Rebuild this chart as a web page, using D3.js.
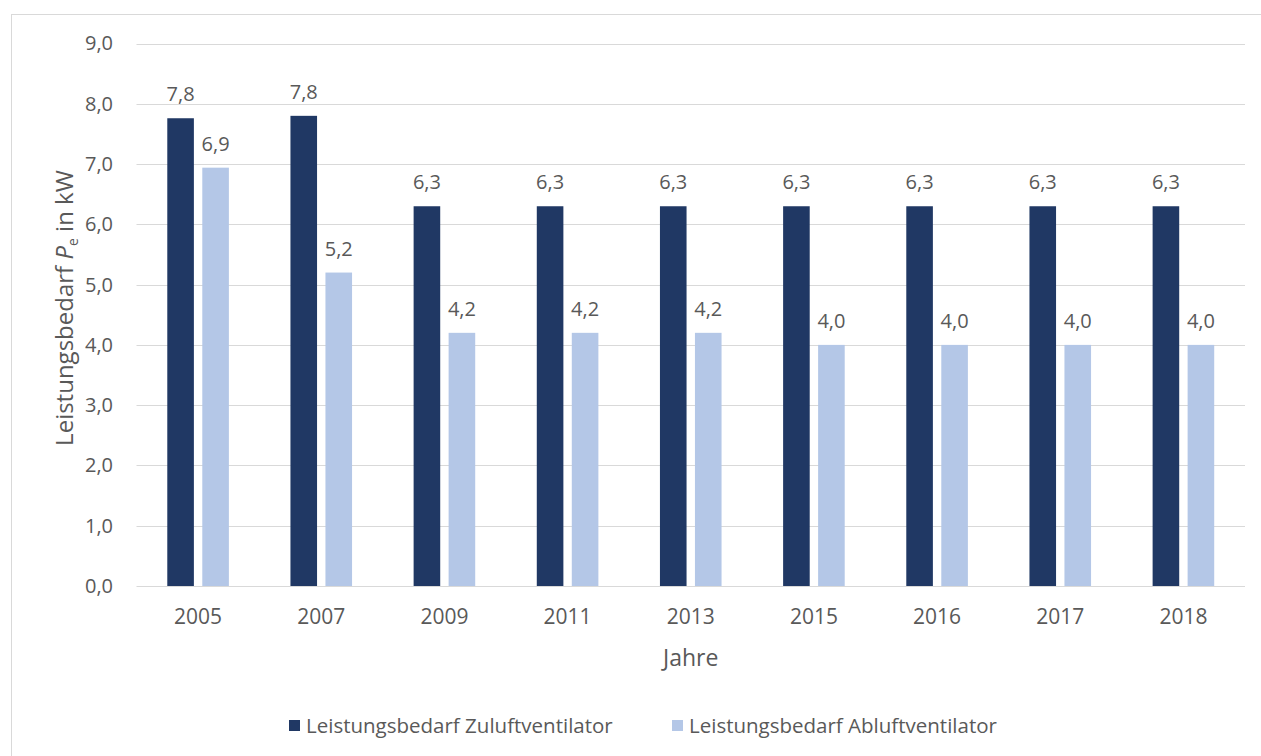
<!DOCTYPE html>
<html>
<head>
<meta charset="utf-8">
<script src="https://cdn.jsdelivr.net/npm/d3@7/dist/d3.min.js"></script>
<style>
  html, body { margin: 0; padding: 0; background: #fff; }
  svg { display: block; font-family: "Open Sans", "DejaVu Sans", sans-serif; }
</style>
</head>
<body>
<svg id="chart" width="1261" height="756"></svg>
<script>
// Jahre und Leistungsbedarf der Ventilatoren (kW)
const years = ["2005", "2007", "2009", "2011", "2013", "2015", "2016", "2017", "2018"];
const zuluft = [7.76, 7.8, 6.3, 6.3, 6.3, 6.3, 6.3, 6.3, 6.3];
const abluft = [6.94, 5.2, 4.2, 4.2, 4.2, 4.0, 4.0, 4.0, 4.0];
const seriesNames = ["Leistungsbedarf Zuluftventilator", "Leistungsbedarf Abluftventilator"];
const seriesColors = ["#203864", "#b4c7e7"];
const yTicks = [0, 1, 2, 3, 4, 5, 6, 7, 8, 9];

const svg = d3.select("#chart");
const textColor = "#595959";
const gridColor = "#d9d9d9";
const fmt = v => d3.format(".1f")(v).replace(".", ",");

// Äußerer Rahmen des Diagrammbereichs
svg.append("rect")
  .attr("x", 11.5).attr("y", 14.5)
  .attr("width", 1300).attr("height", 800)
  .attr("fill", "#fff").attr("stroke", gridColor);

const plot = { left: 136.5, right: 1245, top: 43.5, bottom: 586 };

const x0 = d3.scaleBand().domain(years).range([plot.left, plot.right]).paddingInner(0).paddingOuter(0);
const groupWidth = 61.6;
const x1 = d3.scaleBand().domain([0, 1]).range([0, groupWidth]).paddingInner(0.24).paddingOuter(0);
const y = d3.scaleLinear().domain([0, 9]).range([plot.bottom, plot.top]);

// Gitternetzlinien
svg.append("g")
  .selectAll("line")
  .data(yTicks)
  .join("line")
  .attr("x1", plot.left).attr("x2", plot.right)
  .attr("y1", d => Math.round(y(d)) + 0.5).attr("y2", d => Math.round(y(d)) + 0.5)
  .attr("stroke", gridColor).attr("stroke-width", 1);

// Y-Achse
const yAxis = d3.axisLeft(y).tickValues(yTicks).tickFormat(fmt).tickSize(0).tickPadding(0);
const gy = svg.append("g").attr("transform", `translate(113,0)`).call(yAxis);
gy.select(".domain").remove();
gy.selectAll("text").attr("fill", textColor).style("font-size", "20px")
  .style("font-family", "'Open Sans', sans-serif");

// X-Achse
const xAxis = d3.axisBottom(x0).tickSize(0).tickPadding(0);
const gx = svg.append("g").attr("transform", `translate(0,${plot.bottom + 23})`).call(xAxis);
gx.select(".domain").remove();
gx.selectAll("text").attr("fill", textColor).style("font-size", "21px")
  .style("font-family", "'Open Sans', sans-serif");

// Balken
const rows = years.map((yr, i) => ({ year: yr, values: [zuluft[i], abluft[i]] }));
const groupOffset = (x0.bandwidth() - groupWidth) / 2;

const groups = svg.append("g")
  .selectAll("g")
  .data(rows)
  .join("g")
  .attr("transform", d => `translate(${x0(d.year) + groupOffset},0)`);

groups.selectAll("rect")
  .data(d => d.values.map((v, k) => ({ v, k })))
  .join("rect")
  .attr("x", d => x1(d.k))
  .attr("width", x1.bandwidth())
  .attr("y", d => y(d.v))
  .attr("height", d => y(0) - y(d.v))
  .attr("fill", d => seriesColors[d.k]);

// Datenbeschriftungen
groups.selectAll("text")
  .data(d => d.values.map((v, k) => ({ v, k })))
  .join("text")
  .attr("x", d => x1(d.k) + x1.bandwidth() / 2)
  .attr("y", d => y(d.v) - 17)
  .attr("text-anchor", "middle")
  .attr("fill", textColor)
  .style("font-size", "20px")
  .text(d => fmt(d.v));

// Achsentitel
const yTitle = svg.append("text")
  .attr("transform", "translate(73,308) rotate(-90)")
  .attr("text-anchor", "middle")
  .attr("fill", textColor)
  .style("font-size", "24px");
yTitle.append("tspan").text("Leistungsbedarf ");
yTitle.append("tspan").style("font-style", "italic").text("P");
yTitle.append("tspan").attr("dy", 5).style("font-size", "14px").text("e");
yTitle.append("tspan").attr("dy", -5).text(" in kW");

svg.append("text")
  .attr("x", (plot.left + plot.right) / 2)
  .attr("y", 666)
  .attr("text-anchor", "middle")
  .attr("fill", textColor)
  .style("font-size", "23px")
  .text("Jahre");

// Legende
const legendX = [289, 672];
const legend = svg.append("g")
  .selectAll("g")
  .data(seriesNames)
  .join("g")
  .attr("transform", (d, i) => `translate(${legendX[i]},720)`);
legend.append("rect")
  .attr("width", 11).attr("height", 11)
  .attr("fill", (d, i) => seriesColors[i]);
legend.append("text")
  .attr("x", 17).attr("y", 12.5)
  .attr("fill", textColor)
  .style("font-size", "20.5px")
  .text(d => d);
</script>
</body>
</html>
